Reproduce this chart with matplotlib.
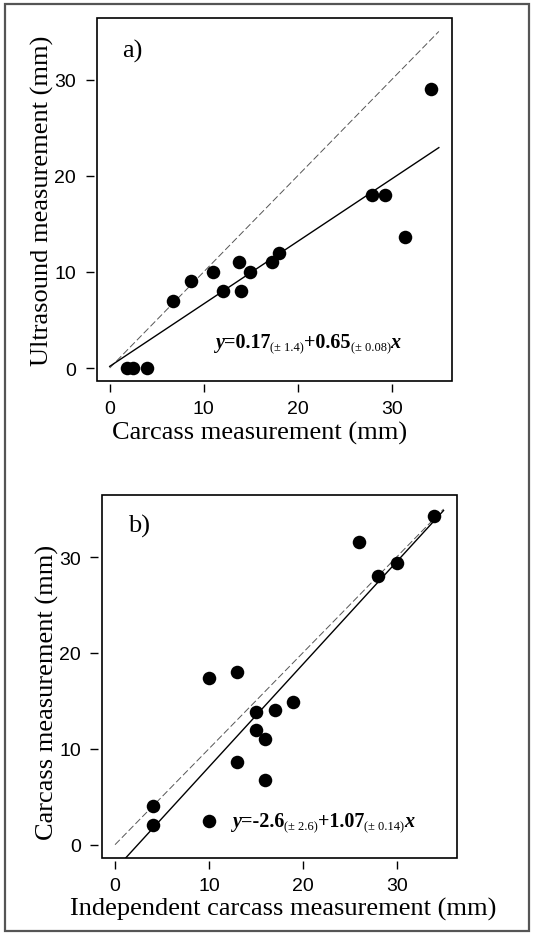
import matplotlib
matplotlib.use("Agg")
import matplotlib.pyplot as plt
from matplotlib.patches import Rectangle
import numpy as np

# ---- data ----
a_x = [1.8, 2.5, 4.0, 6.7, 8.6, 11.0, 12.0, 13.7, 14.0, 14.9, 17.3, 18.0, 27.9, 29.3, 31.4, 34.2]
a_y = [0, 0, 0, 7, 9, 10, 8, 11, 8, 10, 11, 12, 18, 18, 13.6, 29]
a_fit = (0.17, 0.65)

b_x = [4, 4, 10, 10, 13, 13, 15, 15, 16, 16, 17, 19, 26, 28, 30, 34]
b_y = [4, 2, 2.5, 17.35, 18, 8.65, 13.8, 12, 11, 6.7, 14, 14.9, 31.6, 28, 29.4, 34.3]
b_fit = (-2.6, 1.07)

ticks = [0, 10, 20, 30]

W, H = 535, 937
fig = plt.figure(figsize=(W / 100, H / 100), dpi=100)

SERIF = "Liberation Serif"
SANS = "Liberation Sans"


def fx(px):
    return px / W


def fy(py):
    return 1 - py / H


def make_panel(rect, xs, ys, fit, xlim, ylim, letter, letter_pos, eq_pieces, eq_pos):
    ax = fig.add_axes(rect)
    ax.set_xlim(*xlim)
    ax.set_ylim(*ylim)
    # identity (dashed) and fitted (solid) lines
    lx = np.array([0, 35])
    ax.plot(lx, lx, color="#555555", lw=0.7, ls=(0, (7, 3)), zorder=2)
    ax.plot(lx, fit[0] + fit[1] * lx, color="black", lw=1.0, zorder=2)
    ax.scatter(xs, ys, s=95, color="black", zorder=3, linewidths=0)
    ax.set_xticks(ticks)
    ax.set_yticks(ticks)
    for s in ax.spines.values():
        s.set_position(("outward", 2.5))
        s.set_visible(False)
    ax.add_patch(Rectangle((0, 0), 1, 1, transform=ax.transAxes, fill=False,
                           lw=1.2, edgecolor="black", zorder=5, clip_on=False))
    ax.tick_params(direction="out", length=5.5, width=1.0, labelsize=14)
    ax.tick_params(axis="x", pad=6)
    ax.tick_params(axis="y", pad=7)
    for lab in ax.get_xticklabels() + ax.get_yticklabels():
        lab.set_fontfamily(SANS)
    ax.text(letter_pos[0], letter_pos[1], letter, transform=ax.transAxes,
            fontfamily=SERIF, fontsize=19, va="center", ha="left")
    # equation built from pieces
    fig.canvas.draw()
    r = fig.canvas.get_renderer()
    x0 = eq_pos[0]
    for txt, weight, style, size, dy in eq_pieces:
        t = fig.text(x0 / W, fy(eq_pos[1] - dy), txt, fontfamily=SERIF,
                     fontweight=weight, fontstyle=style, fontsize=size,
                     va="baseline", ha="left")
        bb = t.get_window_extent(renderer=r)
        x0 += bb.width
    return ax


def eq(a, sa, b, sb):
    return [
        ("y", "bold", "italic", 14.5, 0),
        ("=" + a, "bold", "normal", 14.5, 0),
        ("(± " + sa + ")", "normal", "normal", 9, -3.5),
        ("+" + b, "bold", "normal", 14.5, 0),
        ("(± " + sb + ")", "normal", "normal", 9, -3.5),
        ("x", "bold", "italic", 14.5, 0),
    ]


axa = make_panel([fx(97), fy(382), fx(452) - fx(97), fy(19) - fy(382)],
                 a_x, a_y, a_fit, (-1.35, 36.4), (-1.35, 36.4), "a)",
                 (0.07, 0.91), eq("0.17", "1.4", "0.65", "0.08"), (215, 348))
axb = make_panel([fx(101.7), fy(859), fx(456.7) - fx(101.7), fy(495.7) - fy(859)],
                 b_x, b_y, b_fit, (-1.42, 36.4), (-1.39, 36.5), "b)",
                 (0.075, 0.915), eq("-2.6", "2.6", "1.07", "0.14"), (232, 827))

# axis labels
fig.text(fx(260), fy(433), "Carcass measurement (mm)", fontfamily=SERIF,
         fontsize=19, ha="center", va="center")
fig.text(fx(42), fy(201), "Ultrasound measurement (mm)", fontfamily=SERIF,
         fontsize=19, ha="center", va="center", rotation=90)
fig.text(fx(283), fy(909), "Independent carcass measurement (mm)", fontfamily=SERIF,
         fontsize=19, ha="center", va="center")
fig.text(fx(47), fy(692), "Carcass measurement (mm)", fontfamily=SERIF,
         fontsize=19, ha="center", va="center", rotation=90)

# outer frame
fig.patches.append(Rectangle((fx(5), fy(932)), fx(529) - fx(5), fy(5) - fy(932),
                             transform=fig.transFigure, fill=False,
                             edgecolor="#555555", lw=1.6))

fig.savefig("out.png", dpi=100)
